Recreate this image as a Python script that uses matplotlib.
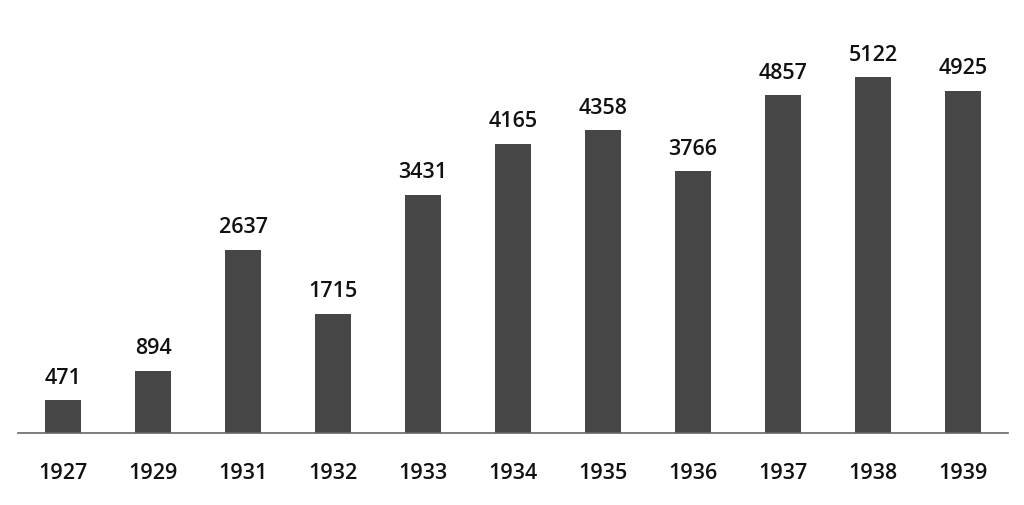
import matplotlib
matplotlib.use("Agg")
import matplotlib.pyplot as plt

years = ["1927", "1929", "1931", "1932", "1933", "1934", "1935", "1936", "1937", "1938", "1939"]
values = [471, 894, 2637, 1715, 3431, 4165, 4358, 3766, 4857, 5122, 4925]

plt.rcParams['font.family'] = ['Open Sans', 'DejaVu Sans']

fig = plt.figure(figsize=(10.24, 5.06), dpi=100)
ax = fig.add_axes([18/1024, 72/506, 990/1024, 434/506])
x = list(range(len(years)))
bars = ax.bar(x, values, width=0.4, color="#464646")
ax.set_xlim(-0.5, len(years) - 0.5)
ax.set_ylim(0, 434 / 0.0695)
for xi, v in zip(x, values):
    ax.annotate(str(v), (xi, v), xytext=(0, 9), textcoords="offset points",
                ha="center", va="bottom", fontsize=15.5, fontweight="semibold", color="#111111")
ax.set_xticks(x)
ax.set_xticklabels(years, fontsize=15.5, fontweight="semibold", color="#111111")
ax.tick_params(axis="x", length=0, pad=21)
ax.set_yticks([])
for s in ["top", "left", "right"]:
    ax.spines[s].set_visible(False)
ax.spines["bottom"].set_color("#666666")
ax.spines["bottom"].set_linewidth(1.2)
fig.savefig("out.png", dpi=100)
